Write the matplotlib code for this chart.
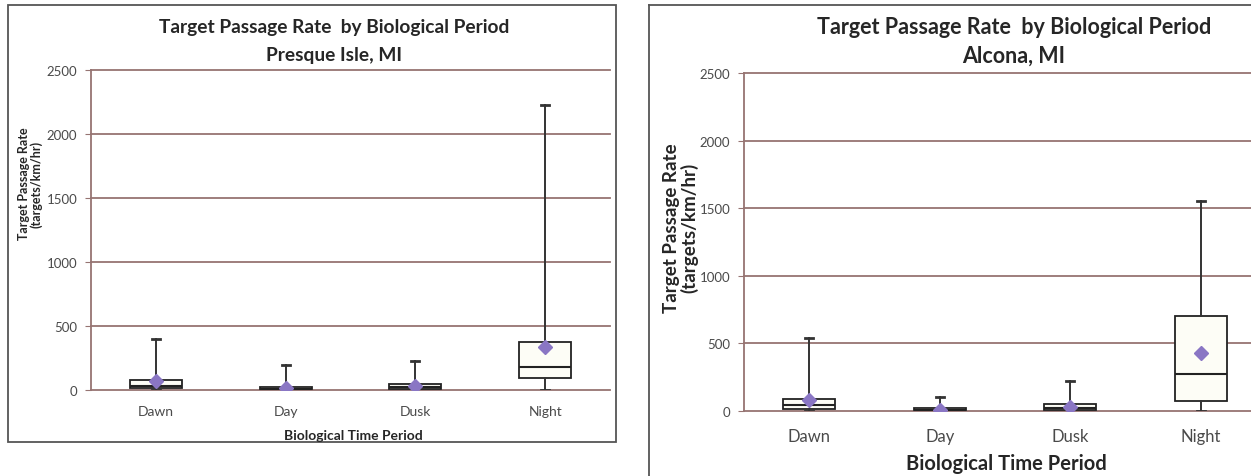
import matplotlib
matplotlib.use("Agg")
import matplotlib.pyplot as plt
from matplotlib.patches import Rectangle
from matplotlib.lines import Line2D

W, H = 1251, 477

# ---- data -------------------------------------------------------------
categories = ["Dawn", "Day", "Dusk", "Night"]
yticks = [0, 500, 1000, 1500, 2000, 2500]

# Presque Isle, MI
pi_min = [0, 0, 0, 0]
pi_q1 = [15, 5, 10, 95]
pi_med = [30, 10, 25, 180]
pi_q3 = [80, 20, 50, 375]
pi_max = [395, 195, 225, 2230]
pi_mean = [70, 15, 30, 335]

# Alcona, MI
al_min = [0, 0, 0, 0]
al_q1 = [15, 5, 10, 75]
al_med = [45, 10, 20, 270]
al_q3 = [90, 20, 50, 705]
al_max = [540, 105, 225, 1550]
al_mean = [85, 10, 30, 430]

GRID = "#967472"
TICKC = "#4a4a4a"
TXT = "#262626"
PURPLE = "#8a76c4"
FONT = "Lato"


def px_rect(x0, y0, x1, y1):
    """pixel box (top-origin) -> figure axes rect"""
    return [x0 / W, 1 - y1 / H, (x1 - x0) / W, (y1 - y0) / H]


fig = plt.figure(figsize=(W / 100, H / 100), dpi=100)
fig.patch.set_facecolor("white")

# panel frames
fig.add_artist(Rectangle((8 / W, 1 - 443 / H), (616 - 8) / W, (443 - 6) / H,
                         transform=fig.transFigure, fill=False,
                         edgecolor="#555555", linewidth=1.3))
fig.add_artist(Line2D([649 / W, 649 / W], [0, 1 - 6 / H], transform=fig.transFigure,
                      color="#555555", linewidth=1.3))
fig.add_artist(Line2D([649 / W, 1.0], [1 - 6 / H, 1 - 6 / H], transform=fig.transFigure,
                      color="#555555", linewidth=1.3))


def draw(ax, mins, q1, med, q3, maxs, means, ytick_fs, xtick_fs):
    stats = []
    for i in range(len(categories)):
        stats.append(dict(whislo=mins[i], q1=q1[i], med=med[i], q3=q3[i],
                          whishi=maxs[i], mean=means[i], label=categories[i]))
    pos = list(range(1, len(categories) + 1))
    ax.bxp(stats, positions=pos, widths=0.40, showmeans=True, showfliers=False,
           patch_artist=True, capwidths=0.06,
           boxprops=dict(facecolor="#fdfdf6", edgecolor="#222222", linewidth=1.3),
           medianprops=dict(color="#222222", linewidth=1.5),
           whiskerprops=dict(color="#333333", linewidth=1.4),
           capprops=dict(color="#333333", linewidth=2.0),
           meanprops=dict(marker="D", markerfacecolor=PURPLE, markeredgecolor=PURPLE,
                          markersize=7), zorder=3)
    ax.set_xlim(0.5, 4.5)
    ax.set_ylim(0, 2500)
    ax.set_yticks(yticks)
    ax.set_yticklabels([str(v) for v in yticks], fontsize=ytick_fs, color=TICKC,
                       family=FONT)
    ax.set_xticks(pos)
    ax.set_xticklabels(categories, fontsize=xtick_fs, color=TICKC, family=FONT)
    for v in yticks:
        ax.plot([0.5, 4.5], [v, v], color=GRID, linewidth=1.3, zorder=1,
                clip_on=False)
    for s in ["top", "right", "bottom"]:
        ax.spines[s].set_visible(False)
    ax.spines["left"].set_color(GRID)
    ax.spines["left"].set_linewidth(1.3)
    ax.tick_params(axis="y", length=4, color=GRID, pad=6)
    ax.tick_params(axis="x", length=0, pad=10)
    ax.set_facecolor("none")


# left panel
ax1 = fig.add_axes(px_rect(91, 71, 610, 391))
draw(ax1, pi_min, pi_q1, pi_med, pi_q3, pi_max, pi_mean, 9.5, 10)
ax1.tick_params(axis="x", pad=11)

# right panel
ax2 = fig.add_axes(px_rect(744, 74, 1266, 412))
draw(ax2, al_min, al_q1, al_med, al_q3, al_max, al_mean, 9.5, 12)
ax2.tick_params(axis="x", pad=12)


def ftext(x, y, s, size, **kw):
    fig.text(x / W, 1 - y / H, s, fontsize=size, family=FONT, ha="center",
             va="center", **kw)


# left panel texts
ftext(334, 28, "Target Passage Rate  by Biological Period", 13.8, fontweight="bold",
      color=TXT)
ftext(334, 56, "Presque Isle, MI", 13.8, fontweight="bold", color=TXT)
ftext(30, 184, "Target Passage Rate\n(targets/km/hr)", 9, fontweight="bold",
      color=TXT, rotation=90, linespacing=1.0)
ftext(353, 436, "Biological Time Period", 10, fontweight="bold", color=TXT)

# right panel texts
ftext(1014, 27, "Target Passage Rate  by Biological Period", 15.5, fontweight="bold",
      color=TXT)
ftext(1014, 56, "Alcona, MI", 15.5, fontweight="bold", color=TXT)
ftext(681, 228, "Target Passage Rate\n(targets/km/hr)", 13.5, fontweight="bold",
      color=TXT, rotation=90, linespacing=1.0)
ftext(1006, 464, "Biological Time Period", 14.5, fontweight="bold", color=TXT)

fig.savefig("out.png", dpi=100)
